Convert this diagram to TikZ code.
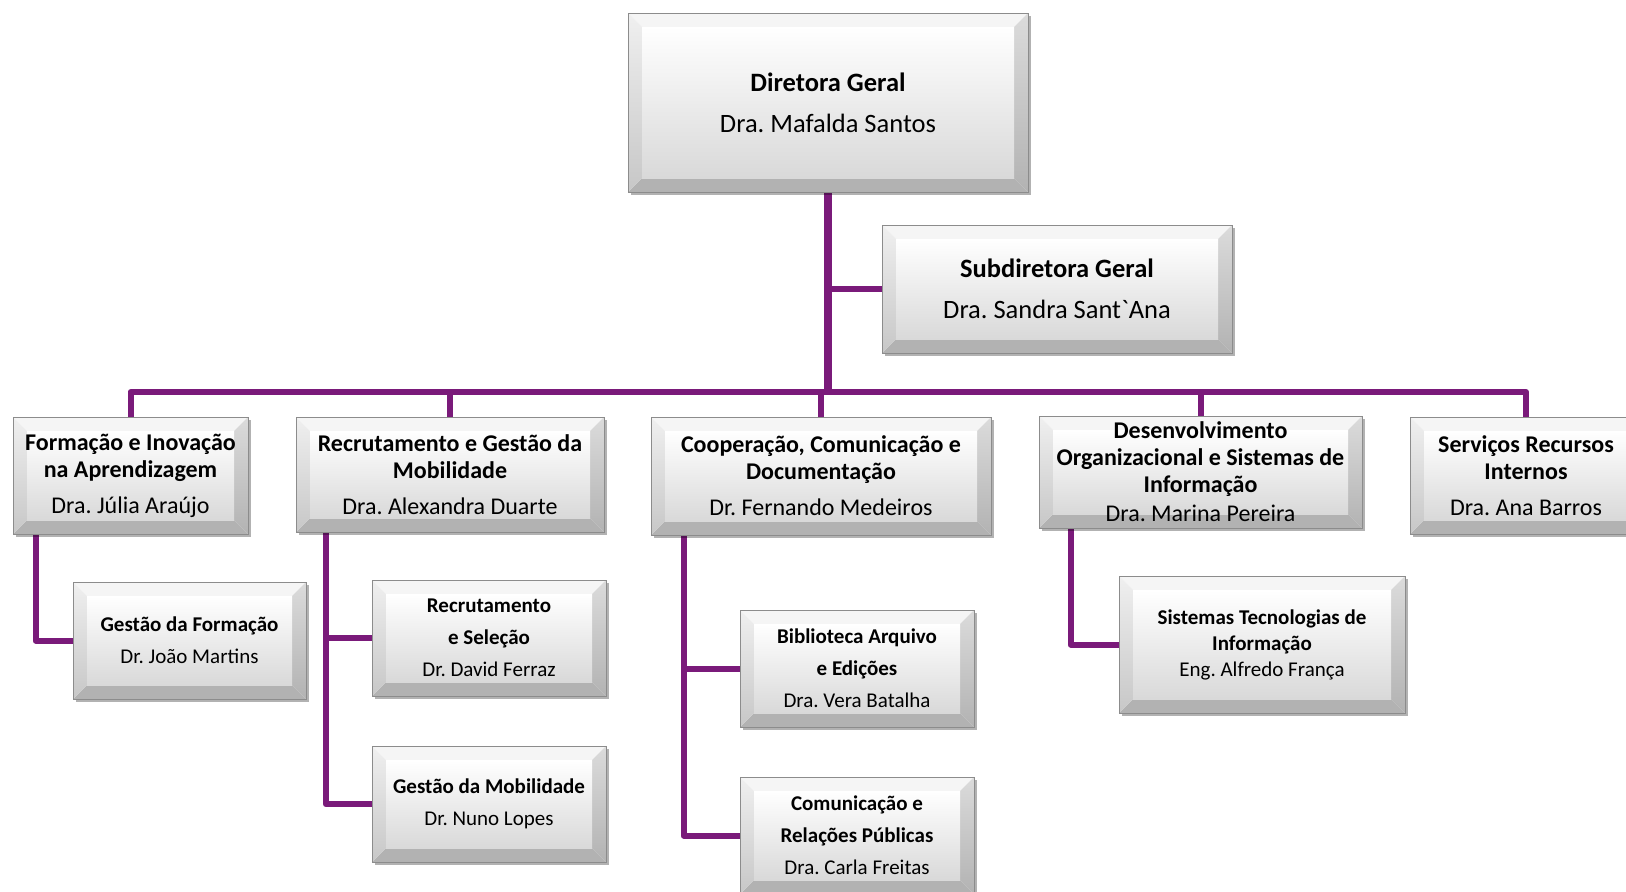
\documentclass[tikz,border=0pt]{standalone}
\usepackage{fontspec}
\setmainfont{Carlito}
\newfontfamily\plaincarlito{Carlito}[Ligatures=TeXOff]
\usetikzlibrary{calc,shadows,backgrounds}
\definecolor{linepurple}{HTML}{7A1A7A}
\definecolor{edgegray}{HTML}{8C8C8C}
\def\bw{14}
\frenchspacing
\tikzset{
  bevel/.style={rectangle, inner sep=0pt, align=center, draw=edgegray, line width=0.8pt,
    fill=white,
    drop shadow={shadow xshift=3pt, shadow yshift=-3pt, fill=black, opacity=0.3},
    path picture={
      \coordinate (pA) at (path picture bounding box.north west);
      \coordinate (pB) at (path picture bounding box.north east);
      \coordinate (pC) at (path picture bounding box.south east);
      \coordinate (pD) at (path picture bounding box.south west);
      \coordinate (iA) at ($(pA)+(\bw,\bw)$);
      \coordinate (iB) at ($(pB)+(-\bw,\bw)$);
      \coordinate (iC) at ($(pC)+(-\bw,-\bw)$);
      \coordinate (iD) at ($(pD)+(\bw,-\bw)$);
      \fill[black!4] (pA) -- (pB) -- (iB) -- (iA) -- cycle;
      \shade[top color=black!14, bottom color=black!30] (pB) -- (pC) -- (iC) -- (iB) -- cycle;
      \fill[black!30] (pC) -- (pD) -- (iD) -- (iC) -- cycle;
      \shade[top color=black!6, bottom color=black!22] (pD) -- (pA) -- (iA) -- (iD) -- cycle;
      \shade[top color=white, bottom color=black!15] (iA) rectangle (iC);
    }},
  lvlA/.style={bevel, font=\fontsize{26.5}{41}\selectfont},
  lvlB/.style={bevel, font=\fontsize{24}{27}\selectfont},
  lvlC/.style={bevel, font=\fontsize{21}{32}\selectfont},
  conn/.style={draw=linepurple, line width=6pt, line join=round},
}
\begin{document}
\begin{tikzpicture}[x=1pt, y=-1pt]
\useasboundingbox (0,0) rectangle (1626,892);

% top level
\node[lvlA, minimum width=400pt, minimum height=179pt] (dg) at (828,102.5)
  {\textbf{Diretora Geral}\\Dra. Mafalda Santos};
\node[lvlA, minimum width=350pt, minimum height=128pt] (sdg) at (1057,289)
  {\textbf{Subdiretora Geral}\\Dra. Sandra Sant{\plaincarlito`}Ana};

% second level
\node[lvlB, minimum width=235pt, minimum height=117pt] (form) at (130.5,475.5)
  {\textbf{Formação e Inovação}\\\textbf{na Aprendizagem}\\[9pt]Dra. Júlia Araújo};
\node[lvlB, minimum width=308pt, minimum height=115pt] (rgm) at (450,474.5)
  {\textbf{Recrutamento e Gestão da}\\\textbf{Mobilidade}\\[9pt]Dra. Alexandra Duarte};
\node[lvlB, minimum width=340pt, minimum height=118pt] (ccd) at (821,476)
  {\textbf{Cooperação, Comunicação e}\\\textbf{Documentação}\\[9pt]Dr. Fernando Medeiros};
\node[lvlB, minimum width=323pt, minimum height=112pt] (dosi) at (1200.5,472)
  {\textbf{Desenvolvimento}\\\textbf{Organizacional e Sistemas de}\\\textbf{Informação}\\[2pt]Dra. Marina Pereira};
\node[lvlB, minimum width=232pt, minimum height=117pt] (sri) at (1526,475.5)
  {\textbf{Serviços Recursos}\\\textbf{Internos}\\[9pt]Dra. Ana Barros};

% third level
\node[lvlC, minimum width=233pt, minimum height=117pt] (gf) at (189.5,640.5)
  {\textbf{Gestão da Formação}\\Dr. João Martins};
\node[lvlC, minimum width=234pt, minimum height=116pt] (rs) at (489,638)
  {\textbf{Recrutamento}\\\textbf{e Seleção}\\Dr. David Ferraz};
\node[lvlC, minimum width=234pt, minimum height=116pt] (gm) at (489,804)
  {\textbf{Gestão da Mobilidade}\\Dr. Nuno Lopes};
\node[lvlC, minimum width=234pt, minimum height=117pt] (bae) at (857,668.5)
  {\textbf{Biblioteca Arquivo}\\\textbf{e Edições}\\Dra. Vera Batalha};
\node[lvlC, minimum width=234pt, minimum height=117pt] (crp) at (857,835.5)
  {\textbf{Comunicação e}\\\textbf{Relações Públicas}\\Dra. Carla Freitas};
\node[lvlC, minimum width=286pt, minimum height=137pt, font=\fontsize{21}{26}\selectfont] (sti) at (1262,644.5)
  {\textbf{Sistemas Tecnologias de}\\\textbf{Informação}\\Eng. Alfredo França};

\begin{pgfonlayer}{background}
  \fill[white] (0,0) rectangle (1626,892);
  \coordinate (busc) at (828,392);
  \draw[conn, line width=8pt] (dg.south) -- (busc);
  \draw[conn] (sdg.west) -- (sdg.west -| dg.south);
  \draw[conn] (busc) -| (form.north);
  \draw[conn] (busc) -| (rgm.north);
  \draw[conn] (busc) -| (ccd.north);
  \draw[conn] (busc) -| (dosi.north);
  \draw[conn] (busc) -| (sri.north);
  \draw[conn] ([xshift=23pt]form.south west) |- (gf.west);
  \draw[conn] ([xshift=30pt]rgm.south west) |- (rs.west);
  \draw[conn] ([xshift=30pt]rgm.south west) |- (gm.west);
  \draw[conn] ([xshift=33pt]ccd.south west) |- (bae.west);
  \draw[conn] ([xshift=33pt]ccd.south west) |- (crp.west);
  \draw[conn] ([xshift=32pt]dosi.south west) |- (sti.west);
\end{pgfonlayer}
\end{tikzpicture}
\end{document}
